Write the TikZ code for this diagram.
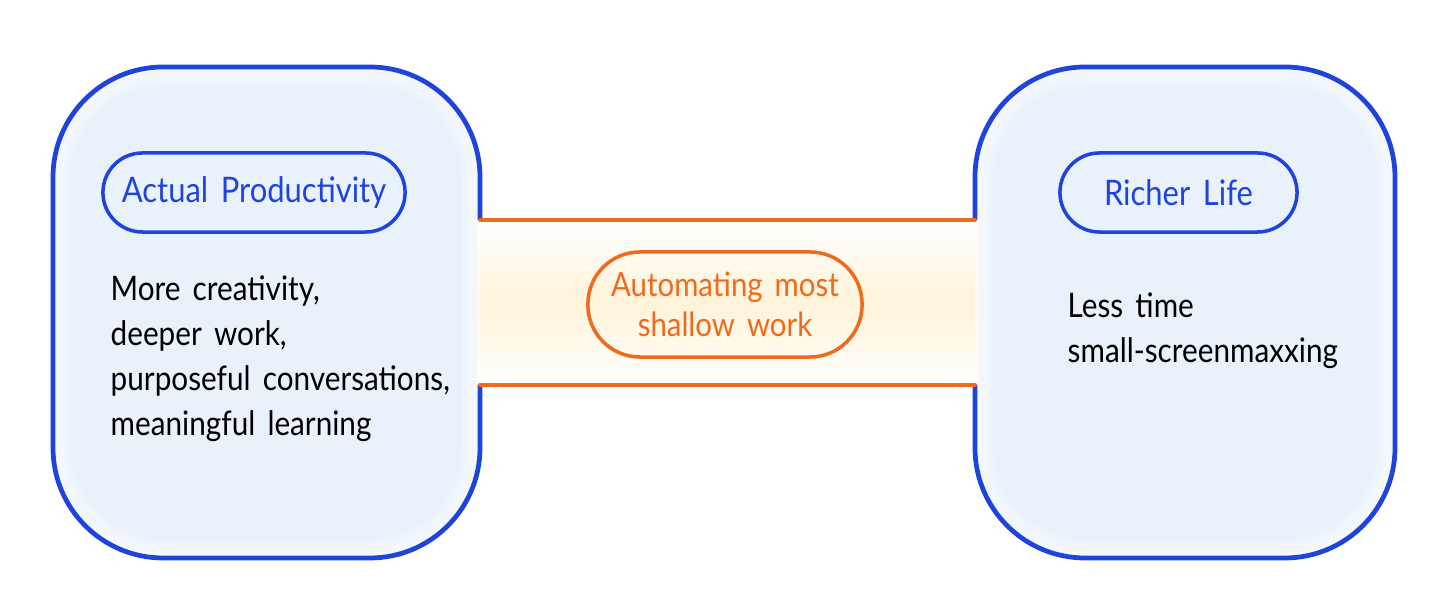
\documentclass[tikz,border=0pt]{standalone}
\usepackage{fontspec}
\setmainfont{Lato}[FakeStretch=0.88, WordSpace=1.6]
\usetikzlibrary{positioning}

\definecolor{lifeblue}{HTML}{1F44DC}
\definecolor{lifefill}{HTML}{E9F1FB}
\definecolor{workorange}{HTML}{F06A1E}
\definecolor{workfill}{HTML}{FFF3D8}

\tikzset{
	blobline/.style={draw=lifeblue, line width=1.35pt, rounded corners=1.1cm},
	blobfill/.style={fill=lifefill, rounded corners=1.1cm},
	barline/.style={draw=workorange, line width=1.1pt, line cap=round},
	pill/.style={draw=#1, text=#1, line width=1pt, inner sep=0pt,
		minimum height=0.79cm, rounded corners=0.395cm, font=\fontsize{10}{12}\selectfont},
	bodytext/.style={anchor=north west, align=left, inner sep=0pt, text=black,
		font=\fontsize{9.6}{12.8}\selectfont}
}

\begin{document}
\begin{tikzpicture}[x=0.01cm, y=-0.01cm]
				\useasboundingbox (0,0) rectangle (1456,616);
				\fill[white] (0,0) rectangle (1456,616);
				
				% the two blobs and the bar between them
				\fill[blobfill] (53,67) rectangle (480,558);
				\fill[blobfill] (975,67) rectangle (1395,558);
				\shade[top color=white, bottom color=white, middle color=workfill] (478,222) rectangle (977,383);
				
				% soft inner halo
				\foreach \w in {0.36,0.26,0.18,0.1} {
					\begin{scope}
						\clip[rounded corners=1.1cm] (53,67) rectangle (480,558);
						\draw[white, opacity=0.22, line width=\w cm, rounded corners=1.1cm] (53,67) rectangle (480,558);
					\end{scope}
					\begin{scope}
						\clip[rounded corners=1.1cm] (975,67) rectangle (1395,558);
						\draw[white, opacity=0.22, line width=\w cm, rounded corners=1.1cm] (975,67) rectangle (1395,558);
					\end{scope}
				}
				
				\coordinate (prodTop) at (480,220);
				\coordinate (prodBot) at (480,385);
				\coordinate (lifeTop) at (975,220);
				\coordinate (lifeBot) at (975,385);
				
				\draw[blobline] (prodTop) -- (480,67) -- (53,67) -- (53,558) -- (480,558) -- (prodBot);
				\draw[blobline] (lifeTop) -- (975,67) -- (1395,67) -- (1395,558) -- (975,558) -- (lifeBot);
				
				\draw[barline] (prodTop) -- (lifeTop);
				\draw[barline] (prodBot) -- (lifeBot);
				
				% labels
				\node[pill=lifeblue, minimum width=3.02cm] (prod) at (254,192.5) {Actual Productivity};
				\node[pill=lifeblue, minimum width=2.37cm] (life) at (1178.5,192.5) {Richer Life};
				\node[pill=workorange, minimum width=2.74cm, minimum height=1.05cm, rounded corners=0.52cm,
					align=center, font=\fontsize{9.5}{11.5}\selectfont] (shallow) at (725,304.5) {Automating most\\shallow work};
				
				\node[bodytext] (prodtext) at (110,275) {More creativity,\\deeper work,\\purposeful conversations,\\meaningful learning};
				\node[bodytext] (lifetext) at (1067,292) {Less time\\small-screenmaxxing};
			\end{tikzpicture}
\end{document}
